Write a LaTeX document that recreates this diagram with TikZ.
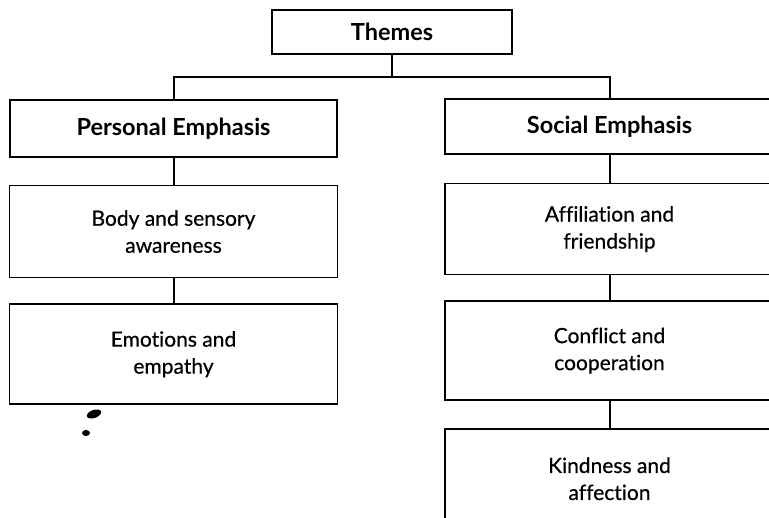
\documentclass[tikz,border=0pt]{standalone}
\usepackage{fontspec}
\setmainfont{Lato}[Ligatures=NoCommon]
\newfontfamily\topicfont{Lato}[Ligatures=NoCommon, FakeBold=0.5]
\usetikzlibrary{positioning}
\tikzstyle{topic} = [
    rectangle,
    draw=black,
    line width=1.6pt,
    align=center,
    text centered,
    font=\topicfont\fontsize{21}{27}\selectfont
]
\tikzstyle{heading} = [
    topic,
    font=\fontsize{23.5}{27}\selectfont\bfseries
]
\tikzstyle{link} = [
    line width=2pt
]

\begin{document}
\begin{tikzpicture}[x=1pt, y=1pt]
    \useasboundingbox (0,0) rectangle (769,-518);
    \clip (0,0) rectangle (769,-518);

    \node (themes) [heading, minimum width=240pt, minimum height=44pt] at (392,-32) {Themes};
    \node (personal) [heading, minimum width=327pt, minimum height=57pt] at (173.5,-128.5) {Personal Emphasis};
    \node (social) [heading, minimum width=329pt, minimum height=55pt] at (609.5,-126.5) {Social Emphasis};

    % personal column
    \node (body) [topic, minimum width=328pt, minimum height=92pt, below=27pt of personal] {Body and sensory\\awareness};
    \node (emotions) [topic, minimum width=328pt, minimum height=100pt, below=25pt of body] {Emotions and\\empathy};

    % social column
    \node (affiliation) [topic, minimum width=329pt, minimum height=91pt, below=28pt of social] {Affiliation and\\friendship};
    \node (conflict) [topic, minimum width=329pt, minimum height=99pt, below=25pt of affiliation] {Conflict and\\cooperation};
    \node (kindness) [topic, minimum width=329pt, minimum height=100pt, below=27pt of conflict] {Kindness and\\affection};

    \coordinate (split) at (392,-77);
    \draw[link] (themes) -- (split);
    \draw[link] (personal) |- (split) -| (social);
    \draw[link] (personal) -- (body);
    \draw[link] (body) -- (emotions);
    \draw[link] (social) -- (affiliation);
    \draw[link] (affiliation) -- (conflict);
    \draw[link] (conflict) -- (kindness);

    % ink spots
    \fill[rotate around={20:(94,-414)}] (94,-414) ellipse (7.5 and 4);
    \fill (86,-433) ellipse (4 and 3);
\end{tikzpicture}
\end{document}
